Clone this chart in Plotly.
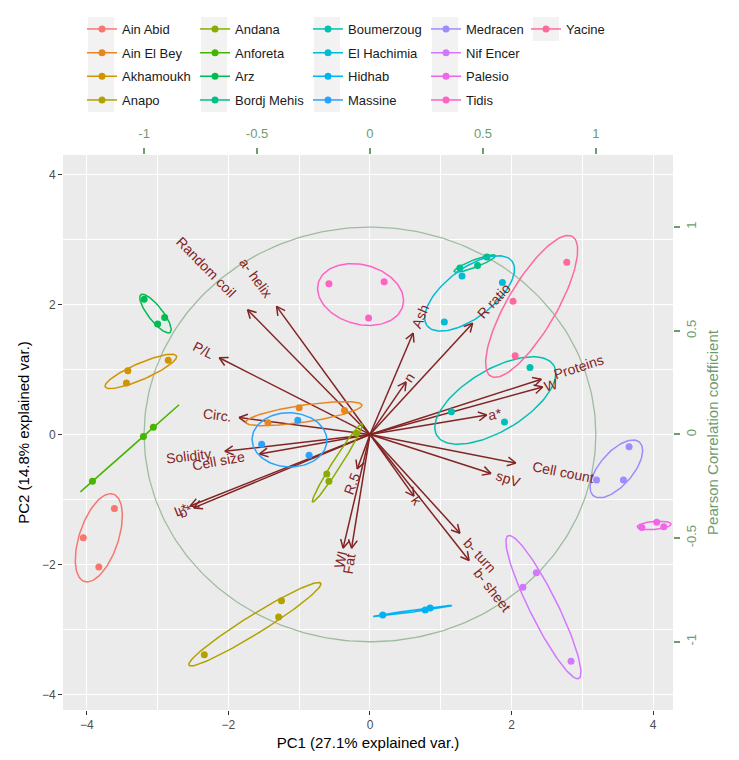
import numpy as np
import plotly.graph_objects as go

# ---- data ---------------------------------------------------------------
groups = ["Ain Abid", "Ain El Bey", "Akhamoukh", "Anapo", "Andana", "Anforeta",
          "Arz", "Bordj Mehis", "Boumerzoug", "El Hachimia", "Hidhab", "Massine",
          "Medracen", "Nif Encer", "Palesio", "Tidis", "Yacine"]

# three replicates per variety (PC1, PC2)
pc1_scores = [
    [-3.61, -4.05, -3.83], [-1.00, -0.36, -1.44], [-3.42, -3.44, -2.85],
    [-1.25, -1.29, -2.34], [-0.61, -0.58, -0.19], [-3.92, -3.20, -3.06],
    [-3.19, -2.90, -3.00], [1.27, 1.52, 1.65], [2.26, 1.15, 1.90],
    [1.30, 1.87, 1.05], [0.18, 0.78, 0.85], [-1.02, -1.53, -0.86],
    [3.66, 3.20, 3.58], [2.35, 2.16, 2.84], [4.05, 3.84, 4.15],
    [-0.58, 0.20, -0.02], [2.78, 2.02, 2.05],
]
pc2_scores = [
    [-1.14, -1.59, -2.04], [0.41, 0.37, 0.18], [0.98, 0.79, 1.14],
    [-2.56, -2.81, -3.39], [-0.61, -0.72, 0.02], [-0.72, -0.03, 0.11],
    [2.08, 1.80, 1.70], [2.56, 2.60, 2.73], [1.03, 0.35, 0.19],
    [2.44, 2.34, 1.73], [-2.78, -2.70, -2.67], [0.22, -0.15, -0.32],
    [-0.19, -0.70, -0.70], [-2.13, -2.35, -3.49], [-1.35, -1.43, -1.42],
    [2.32, 2.35, 1.79], [2.65, 2.05, 1.21],
]

var_names = ["Random coil", "a- helix", "P/L", "Circ.", "Solidity", "Cell size",
             "L*", "b*", "R.5", "WI", "Fat", "k", "b- turn", "b- sheet", "spV",
             "Cell count", "a*", "W", "Proteins", "n", "Ash", "R ratio"]
var_pc1 = [-1.73, -1.32, -2.13, -1.85, -2.05, -1.56, -2.54, -2.49, -0.18, -0.38,
           -0.26, 0.62, 1.27, 1.40, 1.71, 2.06, 1.65, 2.44, 2.42, 0.51, 0.61, 1.45]
var_pc2 = [1.92, 1.97, 1.18, 0.26, -0.26, -0.30, -1.10, -1.13, -0.53, -1.75,
           -1.75, -0.95, -1.52, -1.94, -0.60, -0.44, 0.30, 0.73, 0.85, 0.81, 1.56, 1.71]

corr_ticks = [-1, -0.5, 0, 0.5, 1]

# ---- geometry ------------------------------------------------------------
# the page body has an 8px margin, so the figure is drawn 8px in from the corner
OFF = 8
W, H = 739 - OFF, 760 - OFF
ML, MR, MT, MB = 63 - OFF, 66, 155 - OFF, 50
X_RANGE = [-4.336, 4.28]
Y_RANGE = [-4.24, 4.30]
K = 3.19  # PC units per unit of correlation (radius of the circle)
PLOT_W, PLOT_H = W - ML - MR, H - MT - MB
SX = PLOT_W / (X_RANGE[1] - X_RANGE[0])
SY = PLOT_H / (Y_RANGE[1] - Y_RANGE[0])

ARROW_COL = "#832424"
CORR_COL = "#6f9c6f"
FONT = "Arial, Liberation Sans, sans-serif"
LABEL_SIZE = 14


def px_x(px):
    """page pixel -> paper x"""
    return (px - OFF - ML) / PLOT_W


def px_y(py):
    """page pixel -> paper y"""
    return (H - MB - (py - OFF)) / PLOT_H


def text_width(s, size):
    """rough Arial advance width, in px"""
    narrow = set("iljtfrI.,:;' /*-")
    wide = set("mwMW%")
    caps = set("ABCDEFGHJKLNOPQRSTUVXYZ")
    em = 0.0
    for ch in s:
        if ch in narrow:
            em += 0.29
        elif ch in wide:
            em += 0.85
        elif ch in caps:
            em += 0.69
        else:
            em += 0.54
    return em * size


def hue_colour(h, c=100.0, l=65.0):
    """ggplot2 hue_pal colour (polar LUV -> sRGB hex)."""
    hr = np.radians(h)
    u, v = c * np.cos(hr), c * np.sin(hr)
    xn, yn, zn = 95.047, 100.0, 108.883
    y = yn * ((l + 16) / 116) ** 3
    d = xn + 15 * yn + 3 * zn
    up = u / (13 * l) + 4 * xn / d
    vp = v / (13 * l) + 9 * yn / d
    x = 9 * y * up / (4 * vp)
    z = 3 * y / vp - x / 3 - 5 * y
    m = np.array([[3.2404542, -1.5371385, -0.4985314],
                  [-0.9692660, 1.8760108, 0.0415560],
                  [0.0556434, -0.2040259, 1.0572252]])
    rgb = m @ (np.array([x, y, z]) / 100)
    rgb = np.where(rgb <= 0.0031308, 12.92 * rgb, 1.055 * np.abs(rgb) ** (1 / 2.4) - 0.055)
    rgb = np.clip(rgb, 0, 1)
    return "#%02X%02X%02X" % tuple(int(round(c_ * 255)) for c_ in rgb)


n_groups = len(groups)
colours = [hue_colour(15 + 360 * i / n_groups) for i in range(n_groups)]


def ellipse(xs, ys, prob=0.68, n=120):
    pts = np.column_stack([xs, ys])
    mu = pts.mean(axis=0)
    vals, vecs = np.linalg.eigh(np.cov(pts.T))
    vals = np.clip(vals, 0, None)
    r = np.sqrt(-2 * np.log(1 - prob))
    t = np.linspace(0, 2 * np.pi, n)
    circ = np.column_stack([np.cos(t), np.sin(t)])
    e = mu + r * circ @ (np.diag(np.sqrt(vals)) @ vecs.T)
    return e[:, 0], e[:, 1]


fig = go.Figure()

# correlation circle
t = np.linspace(0, 2 * np.pi, 300)
fig.add_trace(go.Scatter(x=K * np.cos(t), y=K * np.sin(t), mode="lines",
                         line=dict(color="#9fbc9f", width=1.3),
                         showlegend=False, hoverinfo="skip"))

# variable arrows
ax_, ay_ = [], []
head_len, head_ang = 9.5, np.radians(28)
for vx, vy in zip(var_pc1, var_pc2):
    ang = np.arctan2(vy * SY, vx * SX)
    ax_ += [0, vx, None]
    ay_ += [0, vy, None]
    for s in (1, -1):
        a = ang + np.pi + s * head_ang
        ax_ += [vx, vx + head_len * np.cos(a) / SX, None]
        ay_ += [vy, vy + head_len * np.sin(a) / SY, None]
fig.add_trace(go.Scatter(x=ax_, y=ay_, mode="lines",
                         line=dict(color=ARROW_COL, width=1.5),
                         showlegend=False, hoverinfo="skip"))

# points and ellipses per variety
for i, (g, xs, ys) in enumerate(zip(groups, pc1_scores, pc2_scores)):
    col = colours[i]
    leg = "legend" if i == 0 else f"legend{i + 1}"
    fig.add_trace(go.Scatter(x=xs, y=ys, mode="markers", name=g, legendgroup=g,
                             marker=dict(color=col, size=7), showlegend=False,
                             hovertemplate=g + "<br>PC1 %{x}<br>PC2 %{y}<extra></extra>"))
    ex, ey = ellipse(xs, ys)
    fig.add_trace(go.Scatter(x=ex, y=ey, mode="lines", legendgroup=g,
                             line=dict(color=col, width=1.5),
                             showlegend=False, hoverinfo="skip"))
    # legend entry (line + point key, like ggplot)
    fig.add_trace(go.Scatter(x=[None], y=[None], mode="lines+markers", name=g,
                             legendgroup=g, legend=leg,
                             line=dict(color=col, width=1.5),
                             marker=dict(color=col, size=7)))

# invisible trace to switch on the correlation axes
fig.add_trace(go.Scatter(x=[0], y=[0], xaxis="x2", yaxis="y2", mode="markers",
                         marker=dict(size=0, opacity=0), showlegend=False,
                         hoverinfo="skip"))

# variable labels, placed beyond the tip along the arrow like ggbiplot
annotations = []
for name, vx, vy in zip(var_names, var_pc1, var_pc2):
    ang = np.arctan2(vy * SY, vx * SX)
    off = 0.75 * text_width(name, LABEL_SIZE)
    cx = vx + off * np.cos(ang) / SX
    cy = vy + off * np.sin(ang) / SY
    read = np.degrees(ang) if vx >= 0 else np.degrees(ang) + 180
    read = (read + 180) % 360 - 180
    annotations.append(dict(x=cx, y=cy, xref="x", yref="y", text=name,
                            showarrow=False, textangle=-read,
                            xanchor="center", yanchor="middle",
                            font=dict(color=ARROW_COL, size=LABEL_SIZE, family=FONT)))

# legends: 5 columns x 4 rows, column-major like ggplot
col_text_px = [122, 235, 348, 466, 566]
col_box_px = [88, 201, 314, 432, 533]
row_px = [29, 52.7, 76.3, 100]
legends = {}
shapes = []
for i, g in enumerate(groups):
    c, r = divmod(i, 4)
    key = "legend" if i == 0 else f"legend{i + 1}"
    legends[key] = dict(
        x=px_x(col_text_px[c] - 40), xanchor="left",
        y=px_y(row_px[r]), yanchor="middle",
        bgcolor="rgba(0,0,0,0)", borderwidth=0, itemwidth=30,
        font=dict(size=13, color="#1a1a1a", family=FONT),
    )
for c in range(5):
    n_rows = min(4, n_groups - 4 * c)
    top = row_px[0] - 12
    bottom = row_px[n_rows - 1] + 12
    shapes.append(dict(type="rect", xref="paper", yref="paper", layer="below",
                       x0=px_x(col_box_px[c]), x1=px_x(col_box_px[c] + 26),
                       y0=px_y(bottom), y1=px_y(top),
                       fillcolor="#F2F2F2", line=dict(width=0)))

axis_common = dict(showgrid=True, gridcolor="white", gridwidth=1.2, zeroline=False,
                   showline=False, ticks="outside", ticklen=4, tickwidth=1.1,
                   tickcolor="#333333", tickfont=dict(size=12, color="#4d4d4d", family=FONT),
                   tickvals=[-4, -2, 0, 2, 4],
                   minor=dict(showgrid=True, gridcolor="white", gridwidth=0.6, dtick=1,
                              ticks=""))

fig.update_layout(
    width=W, height=H,
    margin=dict(l=ML, r=MR, t=MT, b=MB, autoexpand=False),
    paper_bgcolor="white", plot_bgcolor="#EBEBEB",
    font=dict(family=FONT, size=12),
    hovermode="closest",
    xaxis=dict(axis_common, range=X_RANGE,
               title=dict(text="PC1 (27.1% explained var.)", standoff=6,
                          font=dict(size=15, color="black"))),
    yaxis=dict(axis_common, range=Y_RANGE,
               title=dict(text="PC2 (14.8% explained var.)", standoff=8,
                          font=dict(size=15, color="black"))),
    xaxis2=dict(overlaying="x", side="top", anchor="y",
                range=[X_RANGE[0] / K, X_RANGE[1] / K],
                tickvals=corr_ticks, ticktext=[str(v) for v in corr_ticks],
                showgrid=False, zeroline=False, showline=False,
                ticks="outside", ticklen=6, tickwidth=1.5, tickcolor=CORR_COL,
                ticklabelstandoff=5,
                tickfont=dict(size=13, color=CORR_COL, family=FONT)),
    yaxis2=dict(overlaying="y", side="right", anchor="x",
                range=[Y_RANGE[0] / K, Y_RANGE[1] / K],
                tickvals=corr_ticks, ticktext=[str(v) for v in corr_ticks],
                tickangle=-90,
                showgrid=False, zeroline=False, showline=False,
                ticks="outside", ticklen=6, tickwidth=1.5, tickcolor=CORR_COL,
                tickfont=dict(size=13, color=CORR_COL, family=FONT),
                title=dict(text="Pearson Correlation coefficient", standoff=9,
                           font=dict(size=15, color=CORR_COL))),
    annotations=annotations,
    shapes=shapes,
    **legends,
)

fig.write_html("out.html")
